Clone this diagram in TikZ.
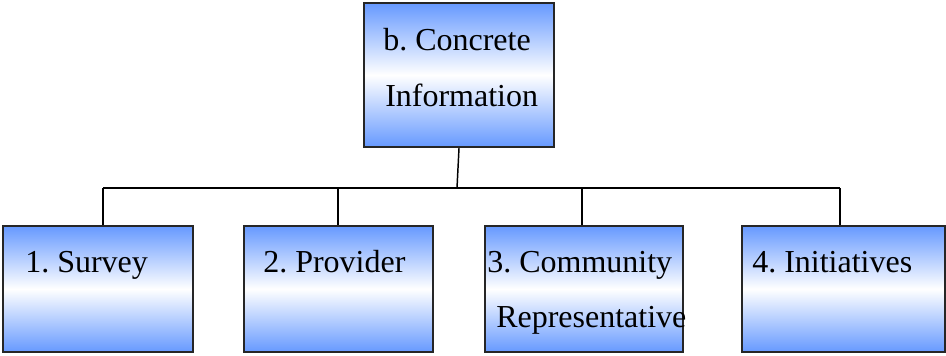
\documentclass[tikz,border=0pt]{standalone}
\usepackage{fontspec}
\setmainfont{Liberation Serif}
\definecolor{boxblue}{HTML}{6699FF}
\frenchspacing
\begin{document}
\begin{tikzpicture}[x=0.75pt,y=-0.75pt,
  gbox/.style={draw=black!85,line width=1.7pt,inner sep=0pt,
    top color=boxblue,bottom color=boxblue,middle color=white},
  lbl/.style={anchor=base west,inner sep=0pt,font=\fontsize{24}{28}\selectfont},
  conn/.style={draw=black,line width=1.1pt}]
\useasboundingbox (0,0) rectangle (946,355);
% boxes
\node[gbox,minimum width=142.5pt,minimum height=108pt] (top) at (459,75) {};
\node[gbox,minimum width=142.5pt,minimum height=94.5pt] (b1) at (98,289) {};
\node[gbox,minimum width=141.75pt,minimum height=94.5pt] (b2) at (338.5,289) {};
\node[gbox,minimum width=148.5pt,minimum height=94.5pt] (b3) at (584,289) {};
\node[gbox,minimum width=152.25pt,minimum height=94.5pt] (b4) at (843.5,289) {};
% labels
\node[lbl] (t1) at (383,50) {b. Concrete};
\node[lbl] (t2) at (385,106) {Information};
\node[lbl] (l1) at (25,272) {1. Survey};
\node[lbl] (l2) at (263,272) {2. Provider};
\node[lbl] (l3a) at (487,272) {3. Community};
\node[lbl] (l3b) at (496,327) {Representative};
\node[lbl] (l4) at (752,272) {4. Initiatives};
% connectors
\coordinate (bus) at (457,188);
\coordinate (d1) at (103,188);
\coordinate (d2) at (338,188);
\coordinate (d3) at (582,188);
\coordinate (d4) at (840,188);
\draw[conn] (top.south) -- (bus);
\draw[conn] (d1) -- (d4);
\draw[conn] (d1) -- (d1 |- b1.north);
\draw[conn] (d2) -- (d2 |- b2.north);
\draw[conn] (d3) -- (d3 |- b3.north);
\draw[conn] (d4) -- (d4 |- b4.north);
\end{tikzpicture}
\end{document}
